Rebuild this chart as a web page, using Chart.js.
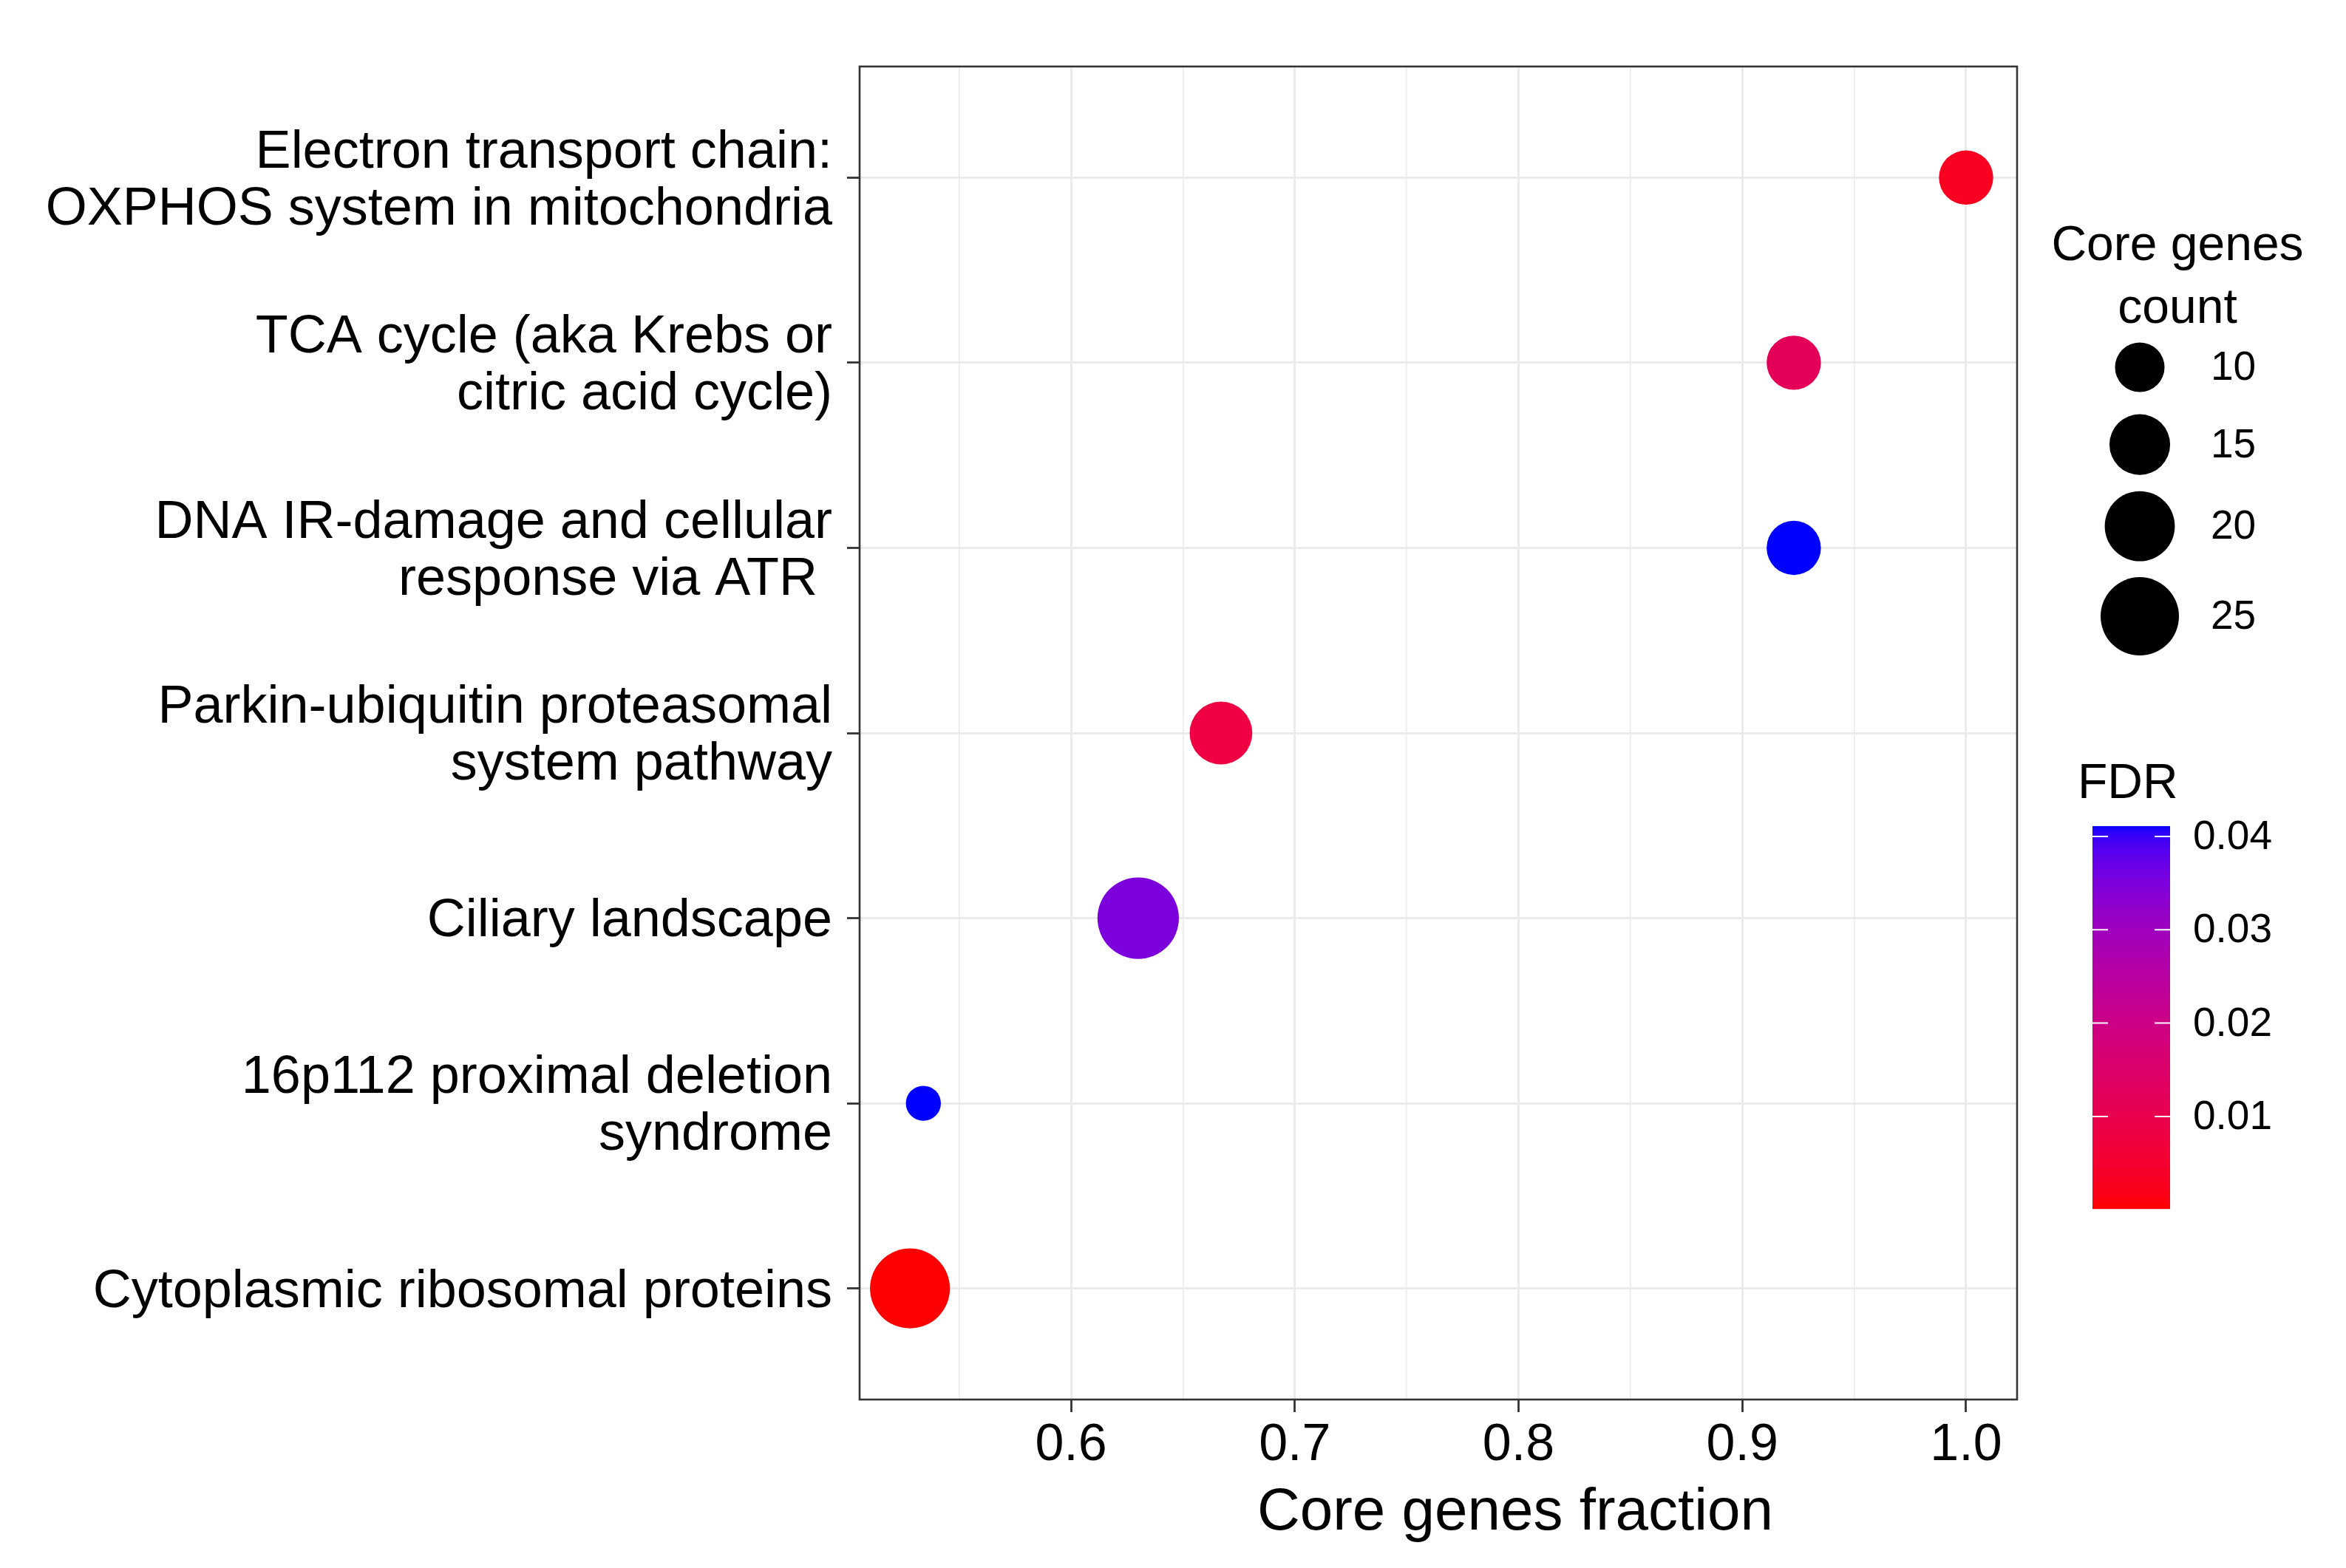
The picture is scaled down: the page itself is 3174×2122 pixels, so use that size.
<!DOCTYPE html>
<html>
<head>
<meta charset="utf-8">
<script src="https://cdn.jsdelivr.net/npm/chart.js@4.4.1/dist/chart.umd.min.js"></script>
<style>
  html, body { margin: 0; padding: 0; background: #fff; }
</style>
</head>
<body>
<canvas id="dotplot" width="3174" height="2122"></canvas>
<script>
// Data (top row first)
const pathways = [
  'Electron transport chain:\nOXPHOS system in mitochondria',
  'TCA cycle (aka Krebs or\ncitric acid cycle)',
  'DNA IR-damage and cellular\nresponse via ATR ',
  'Parkin-ubiquitin proteasomal\nsystem pathway',
  'Ciliary landscape',
  '16p112 proximal deletion\nsyndrome',
  'Cytoplasmic ribosomal proteins'
];
const coreFraction = [1.0, 0.923, 0.923, 0.667, 0.630, 0.534, 0.528];
const coreCount = [12, 12, 12, 16, 27, 5, 26];
const fdr = [0.003, 0.012, 0.0411, 0.008, 0.035, 0.0411, 0.0001];

const xMajorTicks = [0.6, 0.7, 0.8, 0.9, 1.0];
const xMinorTicks = [0.55, 0.65, 0.75, 0.85, 0.95];
const sizeLegendCounts = [10, 15, 20, 25];
const fdrTicks = [0.01, 0.02, 0.03, 0.04];

const FONT = "'Liberation Sans', Arial, sans-serif";
Chart.defaults.font.family = FONT;
Chart.defaults.color = '#000';

// point radius, area proportional to count
const radius = c => 10.6 * Math.sqrt(c);

// red -> blue gradient in Lab space (like ggplot's scale_colour_gradient)
function toLin(c) { c /= 255; return c <= 0.04045 ? c / 12.92 : Math.pow((c + 0.055) / 1.055, 2.4); }
function fromLin(c) {
  c = c <= 0.0031308 ? 12.92 * c : 1.055 * Math.pow(c, 1 / 2.4) - 0.055;
  return Math.round(Math.max(0, Math.min(1, c)) * 255);
}
function rgbToLab(rgb) {
  const r = toLin(rgb[0]), g = toLin(rgb[1]), b = toLin(rgb[2]);
  const x = (0.4124 * r + 0.3576 * g + 0.1805 * b) / 0.95047;
  const y = 0.2126 * r + 0.7152 * g + 0.0722 * b;
  const z = (0.0193 * r + 0.1192 * g + 0.9505 * b) / 1.08883;
  const f = t => t > 0.008856 ? Math.cbrt(t) : 7.787 * t + 16 / 116;
  return [116 * f(y) - 16, 500 * (f(x) - f(y)), 200 * (f(y) - f(z))];
}
function labToRgb(lab) {
  const fy = (lab[0] + 16) / 116, fx = fy + lab[1] / 500, fz = fy - lab[2] / 200;
  const inv = t => t * t * t > 0.008856 ? t * t * t : (t - 16 / 116) / 7.787;
  const x = inv(fx) * 0.95047, y = inv(fy), z = inv(fz) * 1.08883;
  return [
    fromLin(3.2406 * x - 1.5372 * y - 0.4986 * z),
    fromLin(-0.9689 * x + 1.8758 * y + 0.0415 * z),
    fromLin(0.0557 * x - 0.2040 * y + 1.0570 * z)
  ];
}
const labLow = rgbToLab([255, 0, 0]);
const labHigh = rgbToLab([0, 0, 255]);
const fdrMin = Math.min(...fdr), fdrMax = Math.max(...fdr);

function fdrColor(v) {
  const t = Math.max(0, Math.min(1, (v - fdrMin) / (fdrMax - fdrMin)));
  const lab = labLow.map((l, i) => l + (labHigh[i] - l) * t);
  const c = labToRgb(lab);
  return `rgb(${c[0]}, ${c[1]}, ${c[2]})`;
}

const isMajor = v => xMajorTicks.includes(v);

// Panel border, x title and the two legends
const extras = {
  id: 'extras',
  afterDraw(chart) {
    const ctx = chart.ctx;
    const a = chart.chartArea;
    ctx.save();

    // panel border
    ctx.strokeStyle = '#333';
    ctx.lineWidth = 2.6;
    ctx.strokeRect(a.left, a.top, a.right - a.left, a.bottom - a.top);

    // x axis title
    ctx.fillStyle = '#000';
    ctx.textAlign = 'center';
    ctx.textBaseline = 'alphabetic';
    ctx.font = `80px ${FONT}`;
    ctx.fillText('Core genes fraction', 2050, 2070);

    // size legend
    ctx.font = `66px ${FONT}`;
    ctx.fillText('Core genes', 2946, 352);
    ctx.fillText('count', 2946, 437);
    const half = c => Math.max(radius(c), 41.5);
    let cy = 497;
    ctx.font = `55px ${FONT}`;
    ctx.textAlign = 'left';
    ctx.textBaseline = 'middle';
    sizeLegendCounts.forEach((c, i) => {
      if (i > 0) cy += half(sizeLegendCounts[i - 1]) + half(c) + 21.6;
      ctx.fillStyle = '#000';
      ctx.beginPath();
      ctx.arc(2895, cy, radius(c), 0, Math.PI * 2);
      ctx.fill();
      ctx.fillText(String(c), 2991, cy + 2);
    });

    // colour bar
    ctx.textBaseline = 'alphabetic';
    ctx.font = `66px ${FONT}`;
    ctx.fillText('FDR', 2811, 1080);
    const bx = 2831, bw = 105, top = 1118, bottom = 1636;
    for (let y = top; y < bottom; y++) {
      const v = fdrMax - (y + 0.5 - top) / (bottom - top) * (fdrMax - fdrMin);
      ctx.fillStyle = fdrColor(v);
      ctx.fillRect(bx, y, bw, 1.2);
    }
    const yOf = v => bottom - (v - fdrMin) / (fdrMax - fdrMin) * (bottom - top);
    ctx.strokeStyle = '#fff';
    ctx.lineWidth = 2;
    ctx.font = `55px ${FONT}`;
    ctx.textBaseline = 'middle';
    fdrTicks.forEach(t => {
      const y = yOf(t);
      ctx.beginPath();
      ctx.moveTo(bx, y); ctx.lineTo(bx + 21, y);
      ctx.moveTo(bx + bw - 21, y); ctx.lineTo(bx + bw, y);
      ctx.stroke();
      ctx.fillStyle = '#000';
      ctx.fillText(t.toFixed(2), 2967, y + 2);
    });
    ctx.restore();
  }
};

new Chart(document.getElementById('dotplot'), {
  type: 'bubble',
  data: {
    datasets: [{
      data: pathways.map((p, i) => ({ x: coreFraction[i], y: i, r: radius(coreCount[i]) })),
      backgroundColor: fdr.map(fdrColor),
      borderWidth: 0,
      hoverRadius: 0
    }]
  },
  options: {
    responsive: false,
    devicePixelRatio: 1,
    animation: false,
    layout: { padding: { left: 0, top: 90, right: 445, bottom: 0 } },
    plugins: { legend: { display: false }, tooltip: { enabled: false } },
    scales: {
      x: {
        type: 'linear',
        min: 0.5055,
        max: 1.0228,
        afterBuildTicks: s => {
          s.ticks = xMinorTicks.concat(xMajorTicks).sort((p, q) => p - q).map(v => ({ value: v }));
        },
        afterFit: s => { s.height = 228; },
        ticks: {
          callback: v => isMajor(v) ? v.toFixed(1) : '',
          font: { size: 70 },
          color: '#000',
          padding: 4,
          autoSkip: false,
          maxRotation: 0
        },
        grid: {
          color: '#EBEBEB',
          lineWidth: c => (c.tick && isMajor(c.tick.value)) ? 3 : 1.5,
          tickColor: c => (c.tick && isMajor(c.tick.value)) ? '#333' : 'rgba(0,0,0,0)',
          tickLength: 17,
          tickWidth: 2.8
        },
        border: { display: false }
      },
      y: {
        type: 'linear',
        reverse: true,
        min: -0.6,
        max: pathways.length - 0.4,
        afterBuildTicks: s => { s.ticks = pathways.map((p, i) => ({ value: i })); },
        afterFit: s => { s.width = 1163; },
        ticks: {
          callback: v => pathways[v] ? pathways[v].split('\n') : '',
          font: { size: 72, lineHeight: 1.07 },
          color: '#000',
          padding: 20,
          labelOffset: 5,
          autoSkip: false
        },
        grid: {
          color: '#EBEBEB',
          lineWidth: 3,
          tickColor: '#333',
          tickLength: 17,
          tickWidth: 2.8
        },
        border: { display: false }
      }
    }
  },
  plugins: [extras]
});
</script>
</body>
</html>
